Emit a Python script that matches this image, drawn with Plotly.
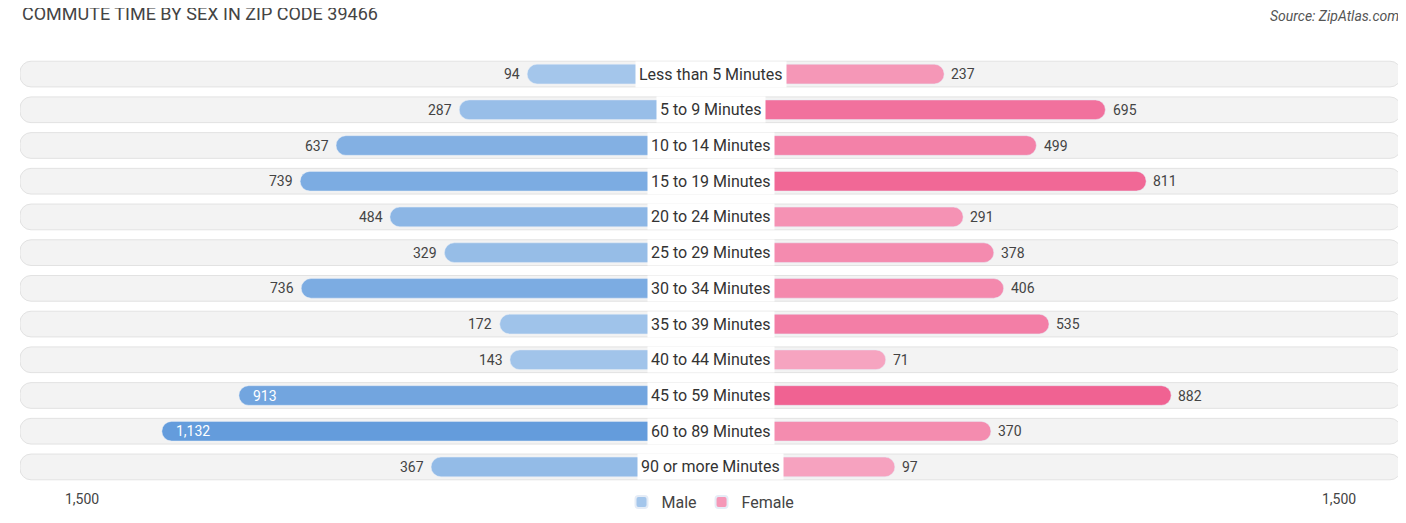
import numpy as np
import plotly.graph_objects as go

categories = ["Less than 5 Minutes", "5 to 9 Minutes", "10 to 14 Minutes", "15 to 19 Minutes",
              "20 to 24 Minutes", "25 to 29 Minutes", "30 to 34 Minutes", "35 to 39 Minutes",
              "40 to 44 Minutes", "45 to 59 Minutes", "60 to 89 Minutes", "90 or more Minutes"]
male = [94, 287, 637, 739, 484, 329, 736, 172, 143, 913, 1132, 367]
female = [237, 695, 499, 811, 291, 378, 406, 535, 71, 882, 370, 97]

OFFSET = 427   # bars run under the centre label
RANGE = 1962

def shade(light, dark, v, vmax):
    t = min(v / vmax, 1.0)
    c = [int(round(l + (d - l) * t)) for l, d in zip(light, dark)]
    return "rgb(%d,%d,%d)" % tuple(c)

male_cols = [shade((170, 202, 236), (100, 156, 220), v, 1132) for v in male]
female_cols = [shade((247, 170, 196), (240, 98, 146), v, 882) for v in female]

fig = go.Figure()
fig.add_trace(go.Bar(y=categories, x=[2 * RANGE] * len(categories), base=-RANGE,
                     orientation="h", width=0.72, marker_color="#f3f3f3",
                     marker_line=dict(color="#e2e2e2", width=1), showlegend=False, hoverinfo="skip"))
fig.add_trace(go.Bar(y=categories, x=[-(v + OFFSET) for v in male], base=0, orientation="h",
                     width=0.55, marker_color=male_cols, name="Male"))
fig.add_trace(go.Bar(y=categories, x=[v + OFFSET for v in female], base=0, orientation="h",
                     width=0.55, marker_color=female_cols, name="Female"))

ann = []
for c, m, f in zip(categories, male, female):
    ann.append(dict(x=0, y=c, text=c, showarrow=False, bgcolor="white",
                    font=dict(size=16, color="#333"), borderpad=3))
    if m > 850:
        ann.append(dict(x=-OFFSET - m + 35, y=c, text=f"{m:,}", showarrow=False, xanchor="left",
                        font=dict(size=14, color="white")))
    else:
        ann.append(dict(x=-OFFSET - m - 15, y=c, text=f"{m:,}", showarrow=False, xanchor="right",
                        font=dict(size=14, color="#444")))
    ann.append(dict(x=OFFSET + f + 15, y=c, text=f"{f:,}", showarrow=False, xanchor="left",
                    font=dict(size=14, color="#444")))

ann += [
    dict(x=0, y=1.075, xref="paper", yref="paper", xanchor="left", yanchor="bottom",
         text="COMMUTE TIME BY SEX IN ZIP CODE 39466", showarrow=False,
         font=dict(size=18, color="#444")),
    dict(x=1, y=1.075, xref="paper", yref="paper", xanchor="right", yanchor="bottom",
         text="<i>Source: ZipAtlas.com</i>", showarrow=False, font=dict(size=14, color="#555")),
    dict(x=0.031, y=-0.015, xref="paper", yref="paper", yanchor="top", text="1,500",
         showarrow=False, font=dict(size=14, color="#444")),
    dict(x=0.969, y=-0.015, xref="paper", yref="paper", yanchor="top", text="1,500",
         showarrow=False, font=dict(size=14, color="#444")),
]

fig.update_layout(
    width=1406, height=523, barmode="overlay", barcornerradius=11,
    margin=dict(l=12, r=13, t=50, b=38),
    paper_bgcolor="white", plot_bgcolor="white",
    font=dict(family="Roboto, sans-serif"),
    xaxis=dict(range=[-RANGE, RANGE], visible=False, fixedrange=True),
    yaxis=dict(autorange="reversed", visible=False, range=None),
    legend=dict(orientation="h", x=0.5, xanchor="center", y=-0.005, yanchor="top",
                font=dict(size=16, color="#444"), itemwidth=30, itemsizing="constant"),
    annotations=ann,
)
fig.update_yaxes(autorange=False, range=[11.45, -0.45])
fig.write_html("out.html")
